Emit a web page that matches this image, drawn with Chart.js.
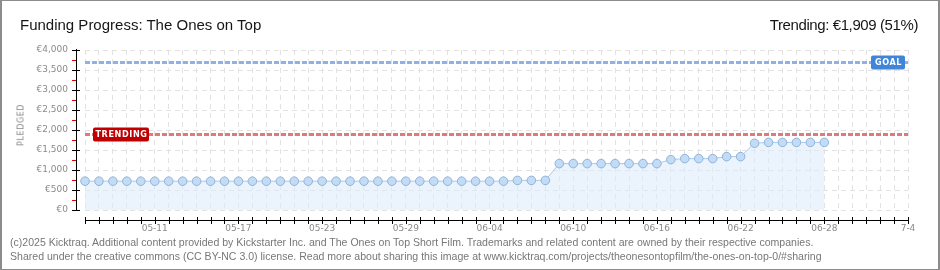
<!DOCTYPE html>
<html>
<head>
<meta charset="utf-8">
<script src="https://cdn.jsdelivr.net/npm/chart.js@4.4.1/dist/chart.umd.min.js"></script>
<style>
  html, body { margin:0; padding:0; background:#fff; }
  #wrap { position:relative; width:940px; height:270px; overflow:hidden; background:#fff; }
  #c { position:absolute; left:0; top:0; }
  #frame { position:absolute; left:0; top:0; width:940px; height:270px; box-sizing:border-box;
           border:1px solid #8c8c8c; border-left-width:2px; border-right-width:2px; pointer-events:none; }
  .t { position:absolute; font-family:"Liberation Sans", Arial, sans-serif; font-size:15px; line-height:15px;
       color:#161616; white-space:nowrap; }
  .f { position:absolute; left:10px; font-family:"Liberation Sans", Arial, sans-serif; font-size:10.55px;
       line-height:13px; color:#777; white-space:nowrap; }
  #yl { position:absolute; left:21px; top:125px; transform:translate(-50%,-50%) rotate(-90deg);
        font-family:"DejaVu Sans", sans-serif; font-size:8px; letter-spacing:0.6px; color:#888; white-space:nowrap; }
</style>
</head>
<body>
<div id="wrap">
  <canvas id="c" width="940" height="270"></canvas>
  <div class="t" style="left:20px; top:17px;">Funding Progress: The Ones on Top</div>
  <div class="t" style="right:22px; top:17px; letter-spacing:-0.4px;">Trending: €1,909 (51%)</div>
  <div id="yl">PLEDGED</div>
  <div class="f" style="top:236px;">(c)2025 Kicktraq. Additional content provided by Kickstarter Inc. and The Ones on Top Short Film. Trademarks and related content are owned by their respective companies.</div>
  <div class="f" style="top:250px;">Shared under the creative commons (CC BY-NC 3.0) license. Read more about sharing this image at www.kicktraq.com/projects/theonesontopfilm/the-ones-on-top-0/#sharing</div>
  <div id="frame"></div>
</div>
<script>
// ---- data ----
const days = [
  '05-06','05-07','05-08','05-09','05-10','05-11','05-12','05-13','05-14','05-15',
  '05-16','05-17','05-18','05-19','05-20','05-21','05-22','05-23','05-24','05-25',
  '05-26','05-27','05-28','05-29','05-30','05-31','06-01','06-02','06-03','06-04',
  '06-05','06-06','06-07','06-08','06-09','06-10','06-11','06-12','06-13','06-14',
  '06-15','06-16','06-17','06-18','06-19','06-20','06-21','06-22','06-23','06-24',
  '06-25','06-26','06-27','06-28','06-29','06-30','07-01','07-02','07-03','07-04'
];
const tickLabels = {
  '05-11':'05-11','05-17':'05-17','05-23':'05-23','05-29':'05-29','06-04':'06-04',
  '06-10':'06-10','06-16':'06-16','06-22':'06-22','06-28':'06-28','07-04':'7-4'
};
const pledged = [
  720,720,720,720,720,720,720,720,720,720,
  720,720,720,720,720,720,720,720,720,720,
  720,720,720,720,720,720,720,720,720,720,
  720,740,740,740,1160,1160,1160,1160,1160,1160,
  1160,1160,1260,1285,1285,1285,1335,1335,1670,1690,
  1690,1690,1690,1690
];
const yTicks = [0,500,1000,1500,2000,2500,3000,3500,4000];
const goal = 3700;
const trending = 1909;

const overlay = {
  id:'overlay',
  afterDatasetsDraw(chart){
    const ctx = chart.ctx, ys = chart.scales.y, xs = chart.scales.x, a = chart.chartArea;
    ctx.save();
    // goal line
    const gy = Math.round(ys.getPixelForValue(goal)) + 0.5;
    ctx.lineWidth = 3; ctx.setLineDash([5,2]);
    ctx.strokeStyle = '#8db3e6';
    ctx.beginPath(); ctx.moveTo(a.left, gy); ctx.lineTo(a.right, gy); ctx.stroke();
    // trending line
    const ty = Math.round(ys.getPixelForValue(trending)) + 0.5;
    ctx.strokeStyle = '#e07a7a';
    ctx.beginPath(); ctx.moveTo(a.left, ty); ctx.lineTo(a.right, ty); ctx.stroke();
    ctx.setLineDash([]);
    // label boxes
    function box(x, y, w, h, fill, text){
      ctx.fillStyle = fill;
      ctx.beginPath();
      if (ctx.roundRect) ctx.roundRect(x, y, w, h, 2); else ctx.rect(x, y, w, h);
      ctx.fill();
      ctx.fillStyle = '#fff';
      ctx.font = 'bold 9px "DejaVu Sans Condensed", "DejaVu Sans", sans-serif';
      try { ctx.letterSpacing = '0.6px'; } catch(e) {}
      ctx.textAlign = 'center'; ctx.textBaseline = 'middle';
      ctx.fillText(text, x + w/2 + 0.5, y + h/2 + 0.5);
      try { ctx.letterSpacing = '0px'; } catch(e) {}
    }
    box(871, gy - 7, 34, 14, '#3f86d8', 'GOAL');
    box(93, ty - 7, 56, 14, '#c00000', 'TRENDING');

    // y axis
    ctx.lineWidth = 1;
    ctx.strokeStyle = '#000';
    ctx.beginPath(); ctx.moveTo(76.5, a.top - 1); ctx.lineTo(76.5, a.bottom + 1); ctx.stroke();
    yTicks.forEach(v => {
      const y = Math.round(ys.getPixelForValue(v)) + 0.5;
      ctx.beginPath(); ctx.moveTo(72, y); ctx.lineTo(80, y); ctx.stroke();
    });
    ctx.strokeStyle = '#e00000';
    for (let i = 0; i < yTicks.length - 1; i++) {
      const y = Math.round(ys.getPixelForValue((yTicks[i] + yTicks[i+1]) / 2)) + 0.5;
      ctx.beginPath(); ctx.moveTo(72, y); ctx.lineTo(76, y); ctx.stroke();
    }
    // x axis
    ctx.strokeStyle = '#000';
    const xa = 220.5;
    ctx.beginPath(); ctx.moveTo(xs.getPixelForValue(0), xa); ctx.lineTo(xs.getPixelForValue(days.length - 1) + 1, xa); ctx.stroke();
    days.forEach((d, i) => {
      const x = Math.round(xs.getPixelForValue(i)) + 0.5;
      ctx.beginPath(); ctx.moveTo(x, 217); ctx.lineTo(x, 224); ctx.stroke();
    });
    ctx.restore();
  }
};

new Chart(document.getElementById('c'), {
  type:'line',
  data:{
    labels: days,
    datasets:[{
      data: pledged,
      borderColor:'#a9c9ee',
      borderWidth:1,
      backgroundColor:'rgba(222,235,250,0.6)',
      fill:'origin',
      tension:0,
      pointRadius:4.3,
      pointBackgroundColor:'#c3dcf6',
      pointBorderColor:'#92b2d8',
      pointBorderWidth:1
    }]
  },
  options:{
    responsive:false,
    animation:false,
    events:[],
    layout:{ padding:{ left:0, top:50, right:32, bottom:0 } },
    plugins:{ legend:{display:false}, tooltip:{enabled:false}, title:{display:false} },
    scales:{
      x:{
        type:'category',
        offset:false,
        afterFit(s){ s.height = 60; },
        border:{ display:false, dash:[5,4] },
        grid:{ color:'#e2e2e2', drawTicks:false, lineWidth:1 },
        ticks:{
          autoSkip:false, maxRotation:0, minRotation:0, padding:13,
          color:'#8a8a8a', font:{ family:'"DejaVu Sans", sans-serif', size:9 },
          callback(v, i){ return tickLabels[days[i]] || ''; }
        }
      },
      y:{
        min:0, max:4000,
        afterFit(s){ s.width = 85; },
        afterBuildTicks(s){ s.ticks = yTicks.map(v => ({value:v})); },
        border:{ display:false, dash:[5,4] },
        grid:{ color:'#e2e2e2', drawTicks:false, lineWidth:1 },
        ticks:{
          padding:17, color:'#8a8a8a', font:{ family:'"DejaVu Sans", sans-serif', size:9 },
          callback(v){ return '€' + Number(v).toLocaleString('en-US'); }
        }
      }
    }
  },
  plugins:[overlay]
});
</script>
</body>
</html>
